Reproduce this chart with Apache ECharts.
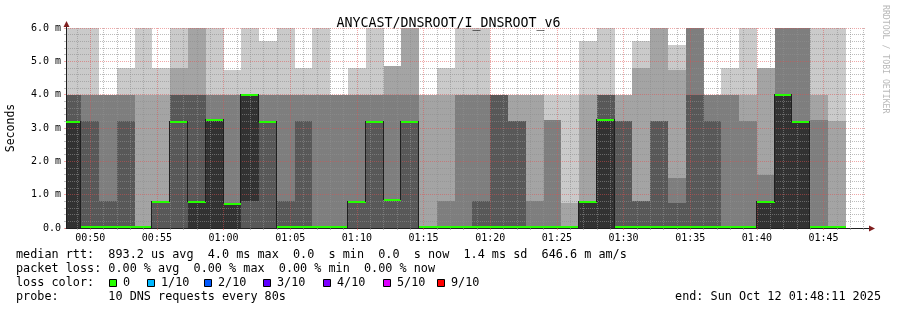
<!DOCTYPE html>
<html><head><meta charset="utf-8">
<script src="https://cdn.jsdelivr.net/npm/echarts@6/dist/echarts.min.js"></script>
<style>html,body{margin:0;padding:0;background:#fff}#c{width:897px;height:310px}</style>
</head><body><div id="c"></div>
<script>
// ---------------- data ----------------
const windowStart = '00:48:11';
const windowEnd = '01:48:11';
const stepSeconds = 80;
// end time of each 80 s RRD step
const stepEnds = ['00:49:20','00:50:40','00:52:00','00:53:20','00:54:40','00:56:00','00:57:20','00:58:40','01:00:00','01:01:20',
  '01:02:40','01:04:00','01:05:20','01:06:40','01:08:00','01:09:20','01:10:40','01:12:00','01:13:20','01:14:40',
  '01:16:00','01:17:20','01:18:40','01:20:00','01:21:20','01:22:40','01:24:00','01:25:20','01:26:40','01:28:00',
  '01:29:20','01:30:40','01:32:00','01:33:20','01:34:40','01:36:00','01:37:20','01:38:40','01:40:00','01:41:20',
  '01:42:40','01:44:00','01:45:20','01:46:40'];
// sorted ping times (ms), rank 1 (fastest) .. rank 10 (slowest)
const ping1 = [0,0,0,0,0,0,0,0,0,0,0,0,0,0,0,0,0,0,0,0,0,0,0,0,0,0,0,0,0,0,0,0,0,0,0,0,0,0,0,0,0,0,0,0];
const ping2 = [0,0,0,0,0,0,0,0,0,0,0,0,0,0,0,0,0,0,0,0,0,0,0,0,0,0,0,0,0,0,0,0,0,0,0,0,0,0,0,0,0,0,0,0];
const ping3 = [0,0,0,0,0,0,0,0,0,0,0,0,0,0,0,0,0,0,0,0,0,0,0,0,0,0,0,0,0,0,0,0,0,0,0,0,0,0,0,0,0,0,0,0];
const ping4 = [0,0,0,0,0,0,0,0,0,0,0,0,0,0,0,0,0,0,0,0,0,0,0,0,0,0,0,0,0,0,0,0,0,0,0,0,0,0,0,0,0,0,0,0];
const ping5 = [0,0,0,0,0,0.8,3.2,0,0,0,0.8,3.2,0,0,0,0,0.8,3.2,0.85,3.2,0,0,0,0,0,0,0,0,0,0,0,0,0,0,0,0,0,0,0,0,0,0,0,0];
const ping6 = [3.2,0,0,0,0,0.8,3.2,0.8,3.25,0.75,4.0,3.2,0,0,0,0,0.8,3.2,0.85,3.2,0,0,0,0,0,0,0,0,0,0.8,3.25,0,0,0,0,0,0,0,0,0.8,4.0,3.2,0,0];
const ping7 = [4.0,3.2,0.8,3.2,0,0.8,4.0,4.0,3.25,0.75,4.0,3.2,0.8,3.2,0,0,0.8,3.2,0.85,3.2,0,0,0,0.8,4.0,3.2,0,0,0,0.8,4.0,3.2,0.8,3.2,0.75,4.0,3.2,0,0,0.8,4.0,3.2,0,0];
const ping8 = [4.0,4.0,4.0,4.0,0,0.8,4.0,4.0,4.0,4.0,4.0,4.0,4.0,4.0,4.0,4.0,4.0,4.0,4.0,4.0,0,0.8,4.0,4.0,4.0,3.2,0.8,3.25,0,0.8,4.0,3.2,0.8,3.2,1.5,6.4,4.0,4.0,3.2,1.6,6.4,6.4,3.25,0];
const ping9 = [4.0,4.0,4.0,4.0,4.0,4.0,4.8,6.4,4.0,4.0,4.0,4.0,4.0,4.0,4.0,4.0,4.0,4.0,4.85,6.4,4.0,4.0,4.0,4.0,4.0,4.0,4.0,3.25,0.75,4.0,4.0,4.0,4.8,6.4,4.75,6.4,4.0,4.0,4.0,4.8,6.4,6.4,4.0,3.2];
const ping10 = [6.4,6.4,4.0,4.8,6.4,4.8,6.4,6.4,6.4,4.75,6.4,5.6,6.4,4.8,6.4,4.0,4.8,6.4,4.85,6.4,4.0,4.8,6.4,6.4,4.0,4.0,4.0,4.0,4.0,5.6,6.4,4.0,5.6,6.4,5.5,6.4,4.0,4.8,6.4,4.8,6.4,6.4,6.4,6.4];
const medians = [3.2,0,0,0,0,0.8,3.2,0.8,3.25,0.75,4.0,3.2,0,0,0,0,0.8,3.2,0.85,3.2,0,0,0,0,0,0,0,0,0,0.8,3.25,0,0,0,0,0,0,0,0,0.8,4.0,3.2,0,0];
// axis ticks
const majorTicks = ['00:50','00:55','01:00','01:05','01:10','01:15','01:20','01:25','01:30','01:35','01:40','01:45'];
const minorTicks = ['00:49','00:51','00:52','00:53','00:54','00:56','00:57','00:58','00:59','01:01','01:02','01:03','01:04',
  '01:06','01:07','01:08','01:09','01:11','01:12','01:13','01:14','01:16','01:17','01:18','01:19','01:21','01:22','01:23','01:24',
  '01:26','01:27','01:28','01:29','01:31','01:32','01:33','01:34','01:36','01:37','01:38','01:39','01:41','01:42','01:43','01:44',
  '01:46','01:47','01:48'];
// legend
const titleText = 'ANYCAST/DNSROOT/I_DNSROOT_v6';
const legendRtt = 'median rtt:  893.2 us avg  4.0 ms max  0.0  s min  0.0  s now  1.4 ms sd  646.6 m am/s';
const legendLoss = 'packet loss: 0.00 % avg  0.00 % max  0.00 % min  0.00 % now';
const lossLabels = ['0','1/10','2/10','3/10','4/10','5/10','9/10'];
const lossColors = ['#26ff00','#00b8ff','#0059ff','#5e00ff','#7e00ff','#dd00ff','#ff0000'];
const probeText = 'probe:       10 DNS requests every 80s';
const endText = 'end: Sun Oct 12 01:48:11 2025';

// ---------------- helpers ----------------
const MONO = '"DejaVu Sans Mono", monospace';
const LFONT = '11.8px ' + MONO;
const toSec = s => { const a = s.split(':').map(Number); return a[0]*3600 + a[1]*60 + (a[2] || 0); };
const pad = n => (n < 10 ? '0' : '') + n;
const fmtTime = v => pad(Math.floor(v/3600)) + ':' + pad(Math.floor((v % 3600)/60));
const tMin = toSec(windowStart), tMax = toSec(windowEnd);
const pings = [ping1,ping2,ping3,ping4,ping5,ping6,ping7,ping8,ping9,ping10];
const smokeColors = ['#cacaca','#a4a4a4','#7e7e7e','#585858','#323232'];
const stepData = stepEnds.map((e, i) => [Math.max(toSec(e) - stepSeconds, tMin), toSec(e), i]);

const majorGrid = 'rgba(222,79,79,0.5)';
const minorGrid = 'rgba(143,143,143,0.6)';

function clip(r, cs) {
  return echarts.graphic.clipRectByRect(r, {x: cs.x, y: cs.y, width: cs.width, height: cs.height});
}

const chart = echarts.init(document.getElementById('c'), null, {renderer: 'canvas', width: 897, height: 310});

// legend graphics
const lossX = [109, 147, 204, 263, 323, 383, 437];
const graphics = [
  {type: 'text', x: 16, y: 254.5, style: {text: legendRtt, font: LFONT, fill: '#000', verticalAlign: 'middle'}},
  {type: 'text', x: 16, y: 268.5, style: {text: legendLoss, font: LFONT, fill: '#000', verticalAlign: 'middle'}},
  {type: 'text', x: 16, y: 282.5, style: {text: 'loss color:', font: LFONT, fill: '#000', verticalAlign: 'middle'}},
  {type: 'text', x: 16, y: 296.5, style: {text: probeText, font: LFONT, fill: '#000', verticalAlign: 'middle'}},
  {type: 'text', x: 881, y: 296.5, style: {text: endText, font: LFONT, fill: '#000', align: 'right', verticalAlign: 'middle'}},
  {type: 'text', x: 889.5, y: 5, rotation: -Math.PI/2, style: {text: 'RRDTOOL / TOBI OETIKER', font: '8.2px ' + MONO, fill: '#b8b8b8', align: 'left', verticalAlign: 'top'}},
  // axis arrows
  {type: 'line', shape: {x1: 866, y1: 228.5, x2: 870, y2: 228.5}, style: {stroke: '#1f1f1f', lineWidth: 1}},
  {type: 'line', shape: {x1: 66.5, y1: 28, x2: 66.5, y2: 24}, style: {stroke: '#1f1f1f', lineWidth: 1}},
  {type: 'polygon', shape: {points: [[869, 225.5], [875, 228.5], [869, 231.5]]}, style: {fill: '#801f1f'}},
  {type: 'polygon', shape: {points: [[63.5, 27], [66.5, 21], [69.5, 27]]}, style: {fill: '#801f1f'}}
];
lossLabels.forEach((lab, k) => {
  graphics.push({type: 'rect', shape: {x: lossX[k] + 0.5, y: 279.5, width: 7, height: 7}, style: {fill: lossColors[k], stroke: '#000', lineWidth: 1}});
  graphics.push({type: 'text', x: lossX[k] + 14, y: 282.5, style: {text: lab, font: LFONT, fill: '#000', verticalAlign: 'middle'}});
});

const option = {
  animation: false,
  backgroundColor: '#ffffff',
  title: {text: titleText, left: 'center', top: 12,
    textStyle: {fontFamily: MONO, fontSize: 13.3, fontWeight: 'normal', color: '#000'}},
  grid: {left: 66, top: 28, width: 800, height: 200, containLabel: false, outerBoundsMode: 'none'},
  xAxis: [{
    type: 'value', min: tMin, max: tMax, position: 'bottom', z: 3,
    axisLine: {show: true, lineStyle: {color: '#1f1f1f', width: 1}},
    axisTick: {show: true, length: 2, customValues: majorTicks.map(toSec), lineStyle: {color: majorGrid}},
    axisLabel: {customValues: majorTicks.map(toSec), formatter: fmtTime, fontFamily: MONO, fontSize: 10, color: '#000', margin: 5},
    splitLine: {show: true, lineStyle: {color: majorGrid, type: [1, 1], width: 1}}
  }, {
    type: 'value', min: tMin, max: tMax, position: 'bottom', z: 3,
    axisLine: {show: false},
    axisTick: {show: true, length: 2, customValues: minorTicks.map(toSec), lineStyle: {color: minorGrid}},
    axisLabel: {show: false},
    splitLine: {show: true, lineStyle: {color: minorGrid, type: [1, 1], width: 1}}
  }],
  yAxis: {
    type: 'value', min: 0, max: 6, interval: 1, z: 3,
    name: 'Seconds', nameLocation: 'middle', nameGap: 49, nameRotate: 90,
    nameTextStyle: {fontFamily: MONO, fontSize: 11.5, color: '#000'},
    axisLine: {show: true, lineStyle: {color: '#1f1f1f', width: 1}},
    axisTick: {show: true, length: 2, lineStyle: {color: majorGrid}},
    minorTick: {show: true, splitNumber: 5, length: 2, lineStyle: {color: minorGrid}},
    axisLabel: {formatter: v => v === 0 ? '0.0' : v.toFixed(1) + ' m', fontFamily: MONO, fontSize: 10, color: '#000', margin: 5},
    splitLine: {show: true, lineStyle: {color: majorGrid, type: [1, 1], width: 1}},
    minorSplitLine: {show: true, lineStyle: {color: minorGrid, type: [1, 1], width: 1}}
  },
  graphic: graphics,
  series: [{
    type: 'custom', name: 'smoke', z: 1, silent: true,
    data: stepData,
    renderItem(params, api) {
      const i = api.value(2), t0 = api.value(0), t1 = api.value(1);
      const cs = params.coordSys;
      const children = [];
      for (let b = 0; b < 5; b++) {
        const lo = pings[b][i], hi = pings[9 - b][i];
        if (hi <= lo) continue;
        const a = api.coord([t0, hi]), c = api.coord([t1, lo]);
        const x0 = Math.round(a[0]), x1 = Math.round(c[0]);
        const y0 = Math.round(a[1]), y1 = Math.round(c[1]);
        const shape = clip({x: x0, y: y0, width: x1 - x0, height: y1 - y0}, cs);
        if (shape) children.push({type: 'rect', shape, style: {fill: smokeColors[b]}});
      }
      return {type: 'group', children};
    }
  }, {
    type: 'custom', name: 'median', z: 5, silent: true,
    data: stepData,
    renderItem(params, api) {
      const i = api.value(2), t0 = api.value(0), t1 = api.value(1);
      const cs = params.coordSys;
      const m = medians[i];
      const a = api.coord([t0, m]), c = api.coord([t1, m]);
      const x0 = Math.round(a[0]), x1 = Math.round(c[0]);
      const bottom = cs.y + cs.height;
      const children = [];
      if (i > 0 && medians[i - 1] !== m) {
        const yp = api.coord([t0, medians[i - 1]])[1];
        const ya = Math.min(yp, a[1]), yb = Math.max(yp, a[1]);
        children.push({type: 'rect', shape: {x: x0 - 1, y: Math.floor(ya), width: 1, height: Math.ceil(yb) - Math.floor(ya)}, style: {fill: '#202020'}});
      }
      const y = Math.min(Math.floor(a[1]), bottom - 2);
      children.push({type: 'rect', shape: {x: x0, y: y, width: x1 - x0, height: 2}, style: {fill: lossColors[0]}});
      return {type: 'group', children};
    }
  }]
};
chart.setOption(option);
</script>
</body></html>
